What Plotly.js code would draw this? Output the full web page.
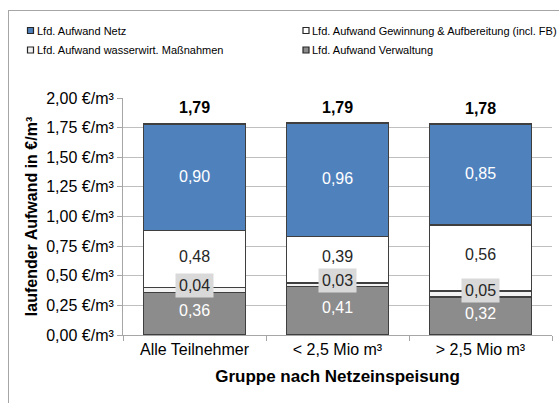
<!DOCTYPE html>
<html><head><meta charset="utf-8">
<script src="https://cdn.plot.ly/plotly-3.0.1.min.js"></script>
<style>
html,body{margin:0;padding:0;background:#fff;}
#frame{position:absolute;left:8px;top:10px;width:600px;height:450px;border:1.5px solid #a6a6a6;box-sizing:border-box;}
#chart{position:absolute;left:0;top:0;width:559px;height:403px;}
</style></head>
<body>
<div id="frame"></div>
<div id="chart"></div>
<script>
const categories = ["Alle Teilnehmer", "< 2,5 Mio m³", "> 2,5 Mio m³"];
const verwaltung = [0.36, 0.41, 0.32];
const wasserwirt = [0.04, 0.03, 0.05];
const gewinnung = [0.48, 0.39, 0.56];
const netz = [0.90, 0.96, 0.85];
const totals = [1.79, 1.79, 1.78];
const yTickVals = [0, 0.25, 0.5, 0.75, 1.0, 1.25, 1.5, 1.75, 2.0];
const yTickText = ["0,00 €/m³","0,25 €/m³","0,50 €/m³","0,75 €/m³","1,00 €/m³","1,25 €/m³","1,50 €/m³","1,75 €/m³","2,00 €/m³"];

const W = 559, H = 403;
const M = {l: 123, r: 7, t: 98, b: 68};
const pw = W - M.l - M.r, ph = H - M.t - M.b;
const px = x => (x - M.l) / pw;          // pixel -> paper x
const py = y => (H - M.b - y) / ph;      // pixel -> paper y

const fmt = v => v.toFixed(2).replace('.', ',');
const line = {color: '#3f3f3f', width: 1.5};
const font = 'Liberation Sans, Arial, sans-serif';

const series = [
  {name: 'Lfd. Aufwand Verwaltung', y: verwaltung, color: '#8c8c8c'},
  {name: 'Lfd. Aufwand wasserwirt. Maßnahmen', y: wasserwirt, color: '#f2f2f2'},
  {name: 'Lfd. Aufwand Gewinnung & Aufbereitung (incl. FB)', y: gewinnung, color: '#ffffff'},
  {name: 'Lfd. Aufwand Netz', y: netz, color: '#4f81bd'}
];
const traces = series.map(s => ({type: 'bar', x: categories, y: s.y, name: s.name,
  marker: {color: s.color, line: line}, hoverinfo: 'none', showlegend: false}));

const annotations = [];
const shapes = [];
categories.forEach((c, i) => {
  let base = 0;
  const segs = [
    {v: verwaltung[i], color: '#ffffff', bg: null},
    {v: wasserwirt[i], color: '#262626', bg: '#d9d9d9'},
    {v: gewinnung[i], color: '#262626', bg: null},
    {v: netz[i], color: '#ffffff', bg: null}
  ];
  segs.forEach((s, k) => {
    const a = {x: c, y: base + s.v / 2, text: fmt(s.v), showarrow: false, yshift: 3,
      font: {family: font, size: 16, color: s.color}};
    if (s.bg) { a.bgcolor = s.bg; a.borderpad = 3; a.yshift = 4; }
    if (k === 3) a.yshift = 1;
    annotations.push(a);
    base += s.v;
  });
  annotations.push({x: c, y: totals[i], text: '<b>' + fmt(totals[i]) + '</b>', showarrow: false,
    yanchor: 'bottom', yshift: 5, font: {family: font, size: 16, color: '#000'}});
});

// legend (two columns): Netz, Gewinnung / wasserwirt, Verwaltung
const legendOrder = [3, 2, 1, 0];
const legCols = [30.5, 306], legRows = [30.5, 50];
legendOrder.forEach((si, j) => {
  const cx = legCols[j % 2], cy = legRows[Math.floor(j / 2)];
  shapes.push({type: 'rect', xref: 'paper', yref: 'paper',
    x0: px(cx - 3), x1: px(cx + 3), y0: py(cy + 3), y1: py(cy - 3),
    fillcolor: series[si].color, line: {color: '#262626', width: 1.2}});
  annotations.push({xref: 'paper', yref: 'paper', x: px(cx + 4), y: py(cy), xanchor: 'left', yanchor: 'middle',
    text: series[si].name, showarrow: false, font: {family: font, size: 11, color: '#000'}});
});

const layout = {
  width: W, height: H,
  margin: M,
  paper_bgcolor: 'rgba(0,0,0,0)', plot_bgcolor: '#fff',
  barmode: 'stack', bargap: 0.29,
  font: {family: font, size: 16, color: '#000'},
  showlegend: false,
  xaxis: {
    type: 'category', showline: true, linecolor: '#a6a6a6', linewidth: 1,
    ticks: 'outside', tickson: 'boundaries', ticklen: 5, tickcolor: '#a6a6a6',
    tickfont: {family: font, size: 16, color: '#000'},
    title: {text: '<b>Gruppe nach Netzeinspeisung</b>', font: {family: font, size: 17, color: '#000'}, standoff: 12}
  },
  yaxis: {
    range: [0, 2.0], tickvals: yTickVals, ticktext: yTickText,
    showgrid: true, gridcolor: '#bfbfbf', gridwidth: 1, zeroline: false,
    showline: true, linecolor: '#a6a6a6', ticks: 'outside', ticklen: 5, tickcolor: '#a6a6a6',
    tickfont: {family: font, size: 16, color: '#000'},
    title: {text: '<b>laufender Aufwand in €/m³</b>', font: {family: font, size: 16, color: '#000'}, standoff: 4}
  },
  annotations: annotations,
  shapes: shapes
};

Plotly.newPlot('chart', traces, layout, {staticPlot: true, displayModeBar: false});
</script>
</body></html>
